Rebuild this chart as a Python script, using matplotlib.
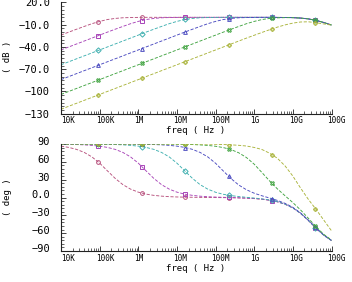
import numpy as np
import matplotlib
matplotlib.use('Agg')
import matplotlib.pyplot as plt
from matplotlib.ticker import FixedLocator, MultipleLocator, LogLocator, NullFormatter
import matplotlib.transforms as mtransforms

# ---------------- data ----------------
freq = [1.0e4, 1.58e4, 2.51e4, 3.98e4, 6.31e4,
        1.0e5, 1.58e5, 2.51e5, 3.98e5, 6.31e5,
        1.0e6, 1.58e6, 2.51e6, 3.98e6, 6.31e6,
        1.0e7, 1.58e7, 2.51e7, 3.98e7, 6.31e7,
        1.0e8, 1.58e8, 2.51e8, 3.98e8, 6.31e8,
        1.0e9, 1.58e9, 2.51e9, 3.98e9, 6.31e9,
        1.0e10, 1.58e10, 2.51e10, 3.98e10, 6.31e10,
        1.0e11]

mag1 = [-24.0, -20.0, -16.1, -12.3, -8.6, -5.5, -3.0, -1.5, -0.6, -0.3, -0.1,
        0.0, 0.0, 0.0, 0.0, 0.0, 0.0, 0.0, 0.0, 0.0, 0.0, 0.0, 0.0, 0.0, 0.0, 0.0, 0.0, 0.0,
        -0.1, -0.2, -0.4, -1.0, -2.1, -4.1, -7.0, -10.4]
mag2 = [-44.0, -40.0, -36.0, -32.0, -28.0, -24.0, -20.0, -16.1, -12.3, -8.6, -5.5,
        -3.0, -1.5, -0.6, -0.3, -0.1,
        0.0, 0.0, 0.0, 0.0, 0.0, 0.0, 0.0, 0.0, 0.0, 0.0, 0.0, 0.0,
        -0.1, -0.2, -0.4, -1.0, -2.1, -4.1, -7.0, -10.4]
mag3 = [-64.0, -60.0, -56.0, -52.0, -48.0, -44.0, -40.0, -36.0, -32.0, -28.0, -24.0,
        -20.0, -16.1, -12.3, -8.6, -5.5, -3.0, -1.5, -0.6, -0.3, -0.1,
        0.0, 0.0, 0.0, 0.0, 0.0, 0.0, 0.0,
        -0.1, -0.2, -0.4, -1.0, -2.1, -4.1, -7.0, -10.4]
mag4 = [-84.0, -80.0, -76.0, -72.0, -68.0, -64.0, -60.0, -56.0, -52.0, -48.0, -44.0,
        -40.0, -36.0, -32.0, -28.0, -24.0, -20.0, -16.1, -12.3, -8.6, -5.5,
        -3.0, -1.5, -0.6, -0.3, -0.1, 0.0, 0.0,
        -0.1, -0.2, -0.4, -1.0, -2.1, -4.1, -7.0, -10.4]
mag5 = [-104.0, -100.0, -96.0, -92.0, -88.0, -84.0, -80.0, -76.0, -72.0, -68.0, -64.0,
        -60.0, -56.0, -52.0, -48.0, -44.0, -40.0, -36.0, -32.0, -28.0, -24.0,
        -20.0, -16.1, -12.3, -8.6, -5.5, -3.0, -1.5,
        -0.7, -0.4, -0.5, -1.0, -2.1, -4.1, -7.0, -10.4]
mag6 = [-124.0, -120.0, -116.0, -112.0, -108.0, -104.0, -100.0, -96.0, -92.0, -88.0, -84.0,
        -80.0, -76.0, -72.0, -68.0, -64.0, -60.0, -56.0, -52.0, -48.0, -44.0,
        -40.0, -36.0, -32.0, -28.0, -24.2, -20.4, -16.7,
        -13.2, -10.2, -7.8, -6.3, -6.0, -7.3, -8.9, -10.5]

ph1 = [86.4, 84.3, 81.0, 75.9, 68.3, 57.8, 45.0, 32.3, 21.7, 14.1, 9.0,
       5.7, 3.6, 2.3, 1.4, 0.9, 0.6, 0.4, 0.2, 0.0, -0.1,
       -0.2, -0.4, -0.7, -1.1, -1.8, -2.9, -4.5,
       -7.2, -11.3, -17.6, -26.6, -38.5, -51.5, -63.4, -72.5]
ph2 = [89.6, 89.4, 89.1, 88.6, 87.7, 86.4, 84.3, 81.0, 75.9, 68.3, 57.8,
       45.0, 32.3, 21.7, 14.1, 9.0, 5.7, 3.6, 2.2, 1.3, 0.7,
       0.3, -0.1, -0.5, -1.0, -1.7, -2.8, -4.5,
       -7.2, -11.3, -17.5, -26.6, -38.5, -51.5, -63.4, -72.4]
ph3 = [90.0, 89.9, 89.9, 89.9, 89.8, 89.6, 89.4, 89.1, 88.6, 87.7, 86.4,
       84.3, 81.0, 75.9, 68.3, 57.8, 45.0, 32.3, 21.6, 14.0, 8.8,
       5.4, 3.2, 1.6, 0.3, -0.9, -2.3, -4.2,
       -6.9, -11.2, -17.5, -26.5, -38.4, -51.5, -63.4, -72.4]
ph4 = [90.0, 90.0, 90.0, 90.0, 90.0, 90.0, 89.9, 89.9, 89.9, 89.8, 89.6,
       89.4, 89.1, 88.6, 87.7, 86.4, 84.3, 81.0, 75.8, 68.2, 57.6,
       44.7, 31.8, 21.0, 13.0, 7.2, 2.9, -0.9,
       -4.9, -9.9, -16.6, -26.0, -38.1, -51.3, -63.3, -72.4]
ph5 = [90.0, 90.0, 90.0, 90.0, 90.0, 90.0, 90.0, 90.0, 90.0, 90.0, 90.0,
       89.9, 89.9, 89.9, 89.8, 89.6, 89.4, 89.1, 88.5, 87.6, 86.2,
       84.0, 80.6, 75.2, 67.2, 56.0, 42.1, 27.7,
       14.5, 2.8, -8.6, -20.9, -34.9, -49.2, -62.0, -71.5]
ph6 = [90.0, 90.0, 90.0, 90.0, 90.0, 90.0, 90.0, 90.0, 90.0, 90.0, 90.0,
       90.0, 90.0, 90.0, 90.0, 90.0, 89.9, 89.9, 89.8, 89.7, 89.5,
       89.1, 88.6, 87.8, 86.6, 84.2, 80.8, 74.5,
       66.0, 53.0, 36.0, 16.0, -3.0, -20.0, -38.0, -56.0]

mags = [mag1, mag2, mag3, mag4, mag5, mag6]
phases = [ph1, ph2, ph3, ph4, ph5, ph6]

marker_freq = [9.25e4, 1.24e6, 1.64e7, 2.18e8, 2.9e9, 3.85e10]

xtick_vals = [1e4, 1e5, 1e6, 1e7, 1e8, 1e9, 1e10, 1e11]
xtick_labels = ['10K', '100K', '1M', '10M', '100M', '1G', '10G', '100G']
ytick1_vals = [20, -10, -40, -70, -100, -130]
ytick1_labels = ['20.0', '\u221210.0', '\u221240.0', '\u221270.0', '\u2212100', '\u2212130']
ytick2_vals = [90, 60, 30, 0, -30, -60, -90]
ytick2_labels = ['90', '60', '30', '0.0', '\u221230', '\u221260', '\u221290']

# ---------------- styling ----------------
colors = ['#b8527e', '#a844b8', '#3fb0b0', '#4a4ac0', '#42a442', '#aab43c']
markers = ['o', 's', 'D', '^', 'X', 'P']
mono = 'DejaVu Sans Mono'

W, H = 352, 282
fig = plt.figure(figsize=(W / 100, H / 100), dpi=100)
ax1 = fig.add_axes([61 / W, (H - 113.7) / H, 270.5 / W, 111.2 / H])
ax2 = fig.add_axes([61 / W, (H - 251) / H, 270.5 / W, 107 / H])

lf = np.log10(freq)
lm = np.log10(marker_freq)
for ax, series in ((ax1, mags), (ax2, phases)):
    for vals, c, m in zip(series, colors, markers):
        ax.plot(freq, vals, color=c, lw=0.65, ls=(0, (3.5, 1.8)))
        ax.plot(marker_freq, np.interp(lm, lf, vals), ls='none', marker=m,
                ms=2.7, mfc='none', mec=c, mew=0.7)

for ax in (ax1, ax2):
    ax.set_xscale('log')
    ax.set_xlim(1e4, 1e11)
    for s in ('top', 'right'):
        ax.spines[s].set_visible(False)
    for s in ('left', 'bottom'):
        ax.spines[s].set_linewidth(0.8)
        ax.spines[s].set_color('#222222')
    ax.xaxis.set_major_locator(FixedLocator(xtick_vals))
    ax.xaxis.set_minor_locator(LogLocator(base=10, subs=np.arange(2, 10), numticks=30))
    ax.xaxis.set_minor_formatter(NullFormatter())
    ax.set_xticklabels(xtick_labels, fontfamily=mono, fontsize=5.5)
    ax.tick_params(axis='both', which='major', direction='in', length=3.5,
                   width=0.6, color='#222222')
    ax.tick_params(axis='both', which='minor', direction='in', length=2,
                   width=0.5, color='#222222')
    ax.tick_params(axis='x', pad=2)
    ax.tick_params(axis='y', pad=8)
    for i, lbl in enumerate(ax.get_xticklabels()):
        lbl.set_ha('left')
        dx = 0 if i == 0 else -4
        lbl.set_transform(lbl.get_transform() +
                          mtransforms.ScaledTranslation(dx / 100, 0, fig.dpi_scale_trans))

ax1.set_ylim(-130, 20)
ax1.yaxis.set_major_locator(FixedLocator(ytick1_vals))
ax1.yaxis.set_minor_locator(MultipleLocator(5))
ax1.set_yticklabels(ytick1_labels, fontfamily=mono, fontsize=7.5)

ax2.set_ylim(-90, 90)
ax2.yaxis.set_major_locator(FixedLocator(ytick2_vals))
ax2.yaxis.set_minor_locator(MultipleLocator(6))
ax2.set_yticklabels(ytick2_labels, fontfamily=mono, fontsize=7.5)
for lbl in ax2.get_yticklabels():
    lbl.set_transform(lbl.get_transform() +
                      mtransforms.ScaledTranslation(0, 3 / 100, fig.dpi_scale_trans))

for ax, ylab, xy, yy in ((ax1, '( dB )', -0.1466, 0.51), (ax2, '( deg )', -0.159, 0.505)):
    ax.set_xlabel('freq ( Hz )', fontfamily=mono, fontsize=6.5)
    ax.xaxis.set_label_coords(0.497, xy)
    ax.xaxis.label.set_va('center')
    ax.set_ylabel(ylab, fontfamily=mono, fontsize=6.5)
    ax.yaxis.set_label_coords(-0.196, yy)
    ax.yaxis.label.set_va('center')

fig.savefig('out.png', dpi=100)
